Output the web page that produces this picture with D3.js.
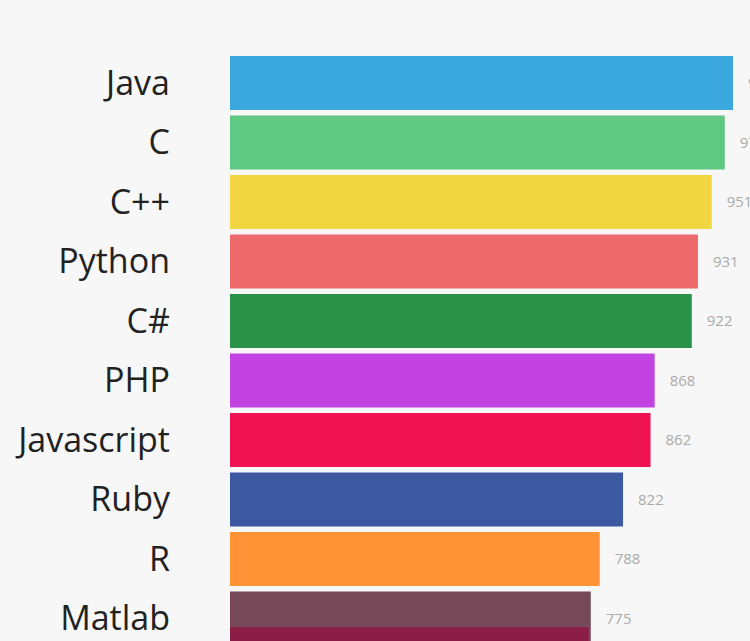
<!DOCTYPE html>
<html>
<head>
<meta charset="utf-8">
<script src="https://cdn.jsdelivr.net/npm/d3@7"></script>
<style>
  html, body { margin: 0; padding: 0; background: #f7f7f7; }
</style>
</head>
<body>
<div class="canvas"></div>
<script>
const width = 750;
const height = 641;

// Data
const languages = ["Java", "C", "C++", "Python", "C#", "PHP", "Javascript", "Ruby", "R", "Matlab", "Perl"];
const values = [982, 970, 951, 931, 922, 868, 862, 822, 788, 775, 772];
const ranks = [0, 1, 2, 3, 4, 5, 6, 7, 8, 9, 9.6];
const colors = ["#3ba9dd", "#5fc882", "#f1d541", "#ee6a6a", "#2a9149", "#c343e2", "#ef1352", "#3b58a0", "#ff9335", "#774858", "#8c1d45"];

const data = languages.map((name, i) => ({
  name,
  value: values[i],
  rank: ranks[i],
  color: colors[i]
}));

const barLeft = 230;
const barHeight = 54;

// Scales
const xScale = d3
  .scaleLinear()
  .domain([250, d3.max(values)])
  .range([barLeft, 733]);

const yScale = d3
  .scaleLinear()
  .domain([0, 10])
  .range([56, 651]);

// SVG
const svg = d3
  .select(".canvas")
  .append("svg")
  .attr("width", width)
  .attr("height", height)
  .style("display", "block");

svg
  .append("rect")
  .attr("width", width)
  .attr("height", height)
  .attr("fill", "#f7f7f7");

// Bars
svg
  .selectAll("rect.bar")
  .data(data)
  .enter()
  .append("rect")
  .attr("class", "bar")
  .attr("x", barLeft)
  .attr("y", d => yScale(d.rank))
  .attr("width", d => xScale(d.value) - barLeft)
  .attr("height", barHeight)
  .attr("fill", d => d.color);

// only label the bars that sit fully in view
const shown = data.filter(d => yScale(d.rank) + barHeight <= height + 5);

// Category labels
svg
  .selectAll("text.label")
  .data(shown)
  .enter()
  .append("text")
  .attr("class", "label")
  .attr("x", 170)
  .attr("y", d => yScale(d.rank) + barHeight / 2)
  .attr("dy", "0.35em")
  .attr("text-anchor", "end")
  .attr("font-family", "'Open Sans', sans-serif")
  .attr("font-size", 34)
  .attr("fill", "#222")
  .text(d => d.name);

// Value labels
svg
  .selectAll("text.value")
  .data(shown)
  .enter()
  .append("text")
  .attr("class", "value")
  .attr("x", d => xScale(d.value) + 15)
  .attr("y", d => yScale(d.rank) + barHeight / 2)
  .attr("dy", "0.35em")
  .attr("font-family", "'Open Sans', sans-serif")
  .attr("font-size", 15)
  .attr("fill", "#aaa")
  .text(d => d.value);
</script>
</body>
</html>
